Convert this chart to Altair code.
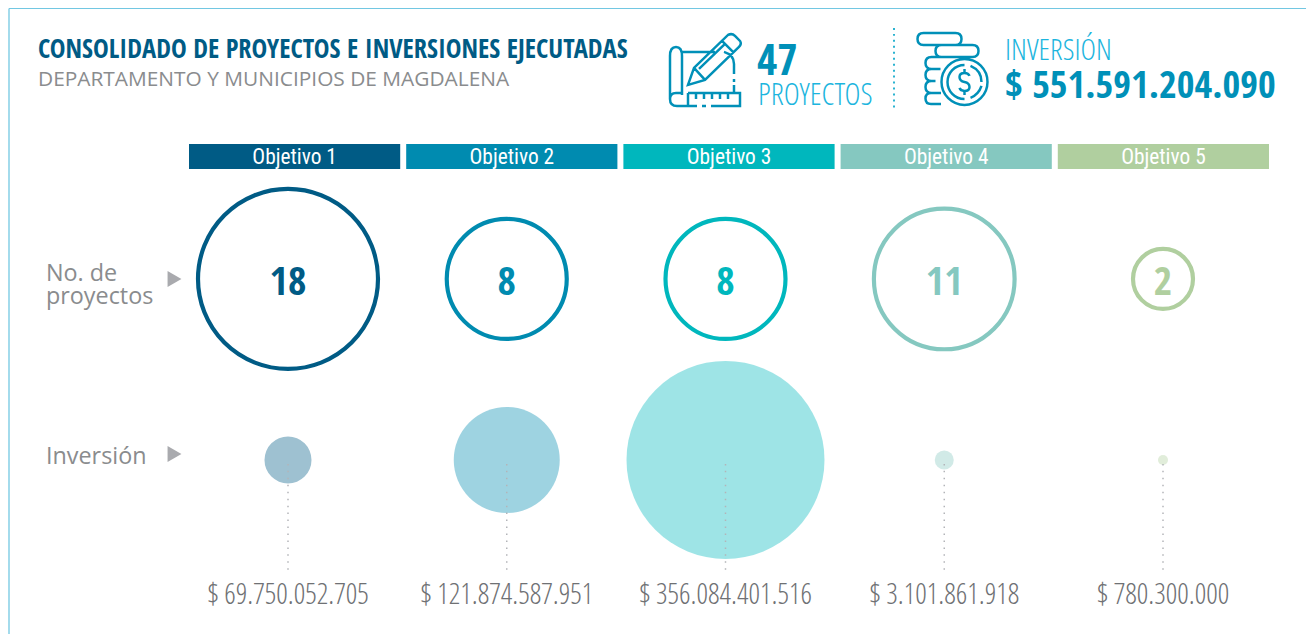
import re
import altair as alt
import pandas as pd

objetivos = ["Objetivo 1", "Objetivo 2", "Objetivo 3", "Objetivo 4", "Objetivo 5"]
proyectos = [18, 8, 8, 11, 2]
inversion = [69750052705, 121874587951, 356084401516, 3101861918, 780300000]
inversion_txt = ["$ 69.750.052.705", "$ 121.874.587.951", "$ 356.084.401.516", "$ 3.101.861.918", "$ 780.300.000"]
colores = ["#005b85", "#008bb0", "#00b7bd", "#85c8c0", "#b0cf9f"]

df = pd.DataFrame({"objetivo": objetivos, "proyectos": proyectos, "inversion": inversion,
                   "inv_txt": inversion_txt})
BOLD = "Open Sans Condensed"
LIGHT = "Open Sans Condensed Light"
MED = "Roboto Condensed"
GRAY = "#8a8c8e"
AZUL = "#0090b8"
CIAN = "#1cb5de"

# The page fits a 1306-wide drawing into 1298px and centres it vertically,
# so page pixels are converted back to drawing pixels.
S = 1306 / 1298


def P(v):
    return (v - 8) * S


def Q(v):
    return (v - 10) * S


x_pt = alt.X("objetivo:N", axis=None,
             scale=alt.Scale(type="point", domain=objetivos, range=[P(288), P(1163)], padding=0))
x_band = alt.X("objetivo:N", axis=None,
               scale=alt.Scale(type="band", domain=objetivos, range=[P(189), P(1269)],
                               paddingInner=0.0276, paddingOuter=0))
col = alt.Color("objetivo:N", legend=None, scale=alt.Scale(domain=objetivos, range=colores))
base = alt.Chart(df)


def txt(s, x, y, size, color, font=LIGHT, align="left"):
    return alt.Chart(pd.DataFrame({"t": [s]})).mark_text(
        font=font, fontSize=size, color=color, align=align, baseline="middle"
    ).encode(x=alt.value(P(x)), y=alt.value(P(y)), text="t:N")


def rule(x, y, x2=None, y2=None, **kw):
    enc = dict(x=alt.value(P(x)), y=alt.value(Q(y)))
    if x2 is not None:
        enc["x2"] = alt.value(P(x2))
    if y2 is not None:
        enc["y2"] = alt.value(Q(y2))
    return alt.Chart(pd.DataFrame({"a": [0]})).mark_rule(**kw).encode(**enc)


def norm(path, box):
    def rep(m):
        return f"{(float(m.group(0)) / box) * 2 - 1:.4f}"

    return re.sub(r"-?\d+\.?\d*", rep, path)


K = 0.5523


def circ(cx, cy, r):
    k = r * K
    return (f"M{cx + r} {cy} C{cx + r} {cy + k} {cx + k} {cy + r} {cx} {cy + r} "
            f"C{cx - k} {cy + r} {cx - r} {cy + k} {cx - r} {cy} "
            f"C{cx - r} {cy - k} {cx - k} {cy - r} {cx} {cy - r} "
            f"C{cx + k} {cy - r} {cx + r} {cy - k} {cx + r} {cy} Z ")


def pill(x0, x1, y0, y1, openright=False):
    r = (y1 - y0) / 2
    s = f"M{x1 - r} {y0} L{x0 + r} {y0} Q{x0} {y0} {x0} {y0 + r} Q{x0} {y1} {x0 + r} {y1} L{x1 - r} {y1} "
    if not openright:
        s += f"Q{x1} {y1} {x1} {y0 + r} Q{x1} {y0} {x1 - r} {y0} "
    return s


plano = (
    "M1 23 Q1 14 7 14 Q13 14 13 23 L13 62 "
    "M1 23 L1 66 Q1 73 8 73 L19 73 M1 66 Q1 60 7 60 L13 60 "
    "M13 19 L46 19 M55 19 Q65 22 65 31 L65 41 M65 46 L65 49 M65 52 L65 60 "
    "M19 60 L71 60 L71 73 L42 73 M37 73 L33 73 M28 73 L19 73 L19 60 "
    "M27 60 L27 66 M35 60 L35 66 M43 60 L43 66 M51 60 L51 66 M59 60 L59 66 "
    "M25 35 L59 2 Q63 0 66 3 L71 8 Q73 11 70 14 L36 47 L19 52 Z "
    "M53 8 L65 20 M25 35 L36 47 M30 36 L56 11 "
)
monedas = (
    pill(1, 45, 1, 13) + pill(19, 62, 13, 25) +
    pill(9, 30, 25, 37, True) + pill(9, 25, 37, 49, True) +
    pill(9, 25, 49, 61, True) + pill(9, 30, 61, 72, True) +
    circ(48, 50, 23) +
    "M48 33 C38 33 31 41 31 50 C31 59 38 67 48 67 M54 34 C61 37 65 43 65 50 M65 54 C63 60 59 64 54 66 " +
    "M53 44 Q52 41 48 41 Q43 41 43 45 Q43 49 48 50 Q53 51 53 55 Q53 59 48 59 Q44 59 43 56 "
    "M48 37 L48 41 M48 59 L48 63 "
)


def icono(path, x, y, box):
    return alt.Chart(pd.DataFrame({"a": [0]})).mark_point(
        shape=norm(path, box), filled=False, color=AZUL, strokeWidth=2.5, opacity=1, size=(box * S) ** 2
    ).encode(x=alt.value(P(x)), y=alt.value(Q(y)))


marco = [
    rule(9, 8.5, y2=634, color="#72c7e2", strokeWidth=1.3),
    rule(9, 8.5, x2=1313, color="#72c7e2", strokeWidth=1.3),
    rule(1313, 8.5, y2=634, color="#72c7e2", strokeWidth=1.3),
]

barras = base.mark_bar().encode(x=x_band, y=alt.value(Q(144)), y2=alt.value(Q(169)), color=col)
barras_txt = base.mark_text(font=MED, fontSize=21.5, color="white", baseline="middle").encode(
    x=x_band.bandPosition(0.5), y=alt.value(P(156.5)), text="objetivo:N")

anillos = base.mark_point(filled=False, strokeWidth=4.2, opacity=1).encode(
    x=x_pt, y=alt.value(Q(279)), color=col,
    size=alt.Size("proyectos:Q", legend=None, scale=alt.Scale(type="linear", domain=[0, 18], range=[0, 32400 * S * S])))
num = base.mark_text(font=BOLD, fontSize=40, baseline="middle").encode(
    x=x_pt, y=alt.value(P(281)), color=col, text="proyectos:Q")

burbujas = base.mark_circle(opacity=0.38).encode(
    x=x_pt, y=alt.value(Q(460)), color=col,
    size=alt.Size("inversion:Q", legend=None, scale=alt.Scale(
        type="linear",
        domain=[780300000, 3101861918, 69750052705, 121874587951, 356084401516],
        range=[100 * S * S, 361 * S * S, 2209 * S * S, 11236 * S * S, 39204 * S * S])))
puntos = base.mark_rule(strokeDash=[1.5, 5.5], color="#b3b4b8", strokeWidth=1.5).encode(
    x=x_pt, y=alt.value(Q(464)), y2=alt.value(Q(573)))
inv_lbl = base.mark_text(font=LIGHT, fontSize=29, color="#6f7174", baseline="middle").encode(
    x=x_pt, y=alt.value(P(593)), text="inv_txt:N")

flechas = [
    alt.Chart(pd.DataFrame({"a": [0]})).mark_point(
        shape="triangle-right", filled=True, color="#a9aaae", opacity=1, size=260
    ).encode(x=alt.value(P(174.5)), y=alt.value(Q(fy)))
    for fy in (279, 454)
]

capas = marco + [
    txt("CONSOLIDADO DE PROYECTOS E INVERSIONES EJECUTADAS", 38, 48, 26.6, "#005b85", BOLD),
    txt("DEPARTAMENTO Y MUNICIPIOS DE MAGDALENA", 38, 78, 21, GRAY, "Open Sans"),
    icono(plano, 706, 70, 74),
    txt("47", 757, 60, 44, AZUL, BOLD),
    txt("PROYECTOS", 758, 94, 31, CIAN),
    rule(894, 28, y2=108, color="#2bb3d0", strokeWidth=2, strokeDash=[2, 4]),
    icono(monedas, 953.5, 69, 74),
    txt("INVERSIÓN", 1005, 49, 30, CIAN),
    txt("$ 551.591.204.090", 1005, 84.5, 38.5, AZUL, BOLD),
    barras, barras_txt, anillos, num, burbujas, puntos, inv_lbl,
    txt("No. de", 46, 272, 23.5, GRAY, "Open Sans"),
    txt("proyectos", 46, 295.5, 23.5, GRAY, "Open Sans"),
    txt("Inversión", 46, 455, 23.5, GRAY, "Open Sans"),
] + flechas

chart = alt.layer(*capas).resolve_scale(x="independent", size="independent").properties(
    width=1306, height=626, padding=0, autosize=alt.AutoSizeParams(type="none"),
    background="white"
).configure_view(stroke=None)

chart.save("out.html", embed_options={"renderer": "svg", "actions": False})
